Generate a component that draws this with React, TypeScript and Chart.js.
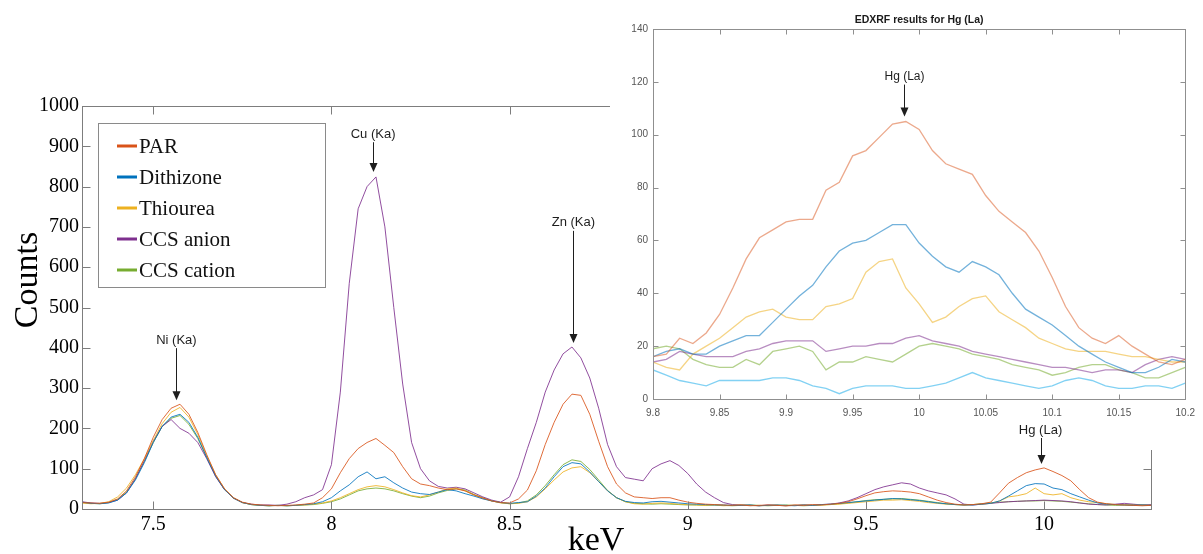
import React, { useEffect, useRef } from "react";
import { Chart, registerables } from "chart.js";

Chart.register(...registerables);

const SERIF = "'Liberation Serif', 'Times New Roman', serif";
const SANS = "'Liberation Sans', Arial, sans-serif";

// ---------- Main spectrum (keV vs counts) ----------
const keV = [
  7.3, 7.325, 7.35, 7.375, 7.4, 7.425, 7.45, 7.475, 7.5, 7.525,
  7.55, 7.575, 7.6, 7.625, 7.65, 7.675, 7.7, 7.725, 7.75, 7.775,
  7.8, 7.825, 7.85, 7.875, 7.9, 7.925, 7.95, 7.975, 8, 8.025,
  8.05, 8.075, 8.1, 8.125, 8.15, 8.175, 8.2, 8.225, 8.25, 8.275,
  8.3, 8.325, 8.35, 8.375, 8.4, 8.425, 8.45, 8.475, 8.5, 8.525,
  8.55, 8.575, 8.6, 8.625, 8.65, 8.675, 8.7, 8.725, 8.75, 8.775,
  8.8, 8.825, 8.85, 8.875, 8.9, 8.925, 8.95, 8.975, 9, 9.025,
  9.05, 9.075, 9.1, 9.125, 9.15, 9.175, 9.2, 9.225, 9.25, 9.275,
  9.3, 9.325, 9.35, 9.375, 9.4, 9.425, 9.45, 9.475, 9.5, 9.525,
  9.55, 9.575, 9.6, 9.625, 9.65, 9.675, 9.7, 9.725, 9.75, 9.775,
  9.8, 9.825, 9.85, 9.875, 9.9, 9.925, 9.95, 9.975, 10, 10.025,
  10.05, 10.075, 10.1, 10.125, 10.15, 10.175, 10.2, 10.225, 10.25, 10.275,
  10.3,
];

const parCounts = [
  16, 15, 14, 17, 25, 45, 80, 125, 178, 222,
  250, 260, 235, 190, 135, 85, 50, 28, 17, 12,
  10, 9, 8, 9, 10, 12, 15, 28, 50, 90,
  125, 150, 165, 175, 158, 140, 105, 75, 62, 58,
  52, 48, 50, 45, 35, 27, 20, 16, 15, 25,
  47, 95, 160, 215, 260, 285, 282, 235, 168, 105,
  62, 40, 30, 28, 26, 28, 28, 22, 17, 14,
  12, 11, 10, 9, 10, 8, 9, 10, 9, 8,
  10, 9, 11, 10, 12, 14, 18, 25, 33, 40,
  43, 45, 44, 42, 38, 30, 22, 16, 12, 10,
  11, 13, 17, 40, 64, 78, 90, 97, 102, 93,
  83, 70, 48, 28, 17, 13, 11, 10, 9, 8,
  9,
];

const dithizoneCounts = [
  17, 14, 13, 15, 22, 40, 72, 115, 165, 205,
  228, 235, 215, 178, 128, 82, 48, 27, 16, 11,
  9, 8, 9, 8, 9, 11, 13, 18, 28, 45,
  60, 80, 92, 75, 80, 65, 52, 42, 38, 36,
  42, 48, 45, 38, 32, 25, 20, 16, 14, 16,
  18, 32, 52, 80, 105, 115, 112, 92, 68, 45,
  28, 19, 16, 15, 18, 19, 17, 15, 13, 12,
  11, 10, 10, 9, 9, 10, 8, 9, 10, 9,
  8, 10, 9, 11, 12, 14, 16, 18, 20, 22,
  24, 26, 25, 23, 21, 18, 15, 13, 11, 10,
  10, 12, 14, 20, 32, 45, 58, 63, 62, 52,
  48, 38, 30, 22, 15, 12, 11, 10, 9, 10,
  9,
];

const thioureaCounts = [
  15, 13, 14, 18, 30, 52, 85, 125, 170, 212,
  240, 252, 228, 185, 132, 85, 50, 28, 16, 11,
  9, 8, 9, 8, 9, 10, 12, 15, 20, 28,
  38, 48, 55, 58, 55, 48, 40, 33, 30, 35,
  42, 50, 52, 45, 35, 26, 20, 15, 13, 14,
  18, 30, 50, 72, 92, 102, 105, 90, 68, 45,
  28, 18, 13, 12, 14, 15, 14, 12, 11, 10,
  9, 10, 8, 9, 10, 9, 8, 9, 10, 8,
  9, 10, 9, 10, 11, 12, 14, 16, 18, 20,
  22, 22, 23, 21, 19, 16, 14, 12, 11, 10,
  11, 12, 14, 20, 30, 33, 38, 52, 38, 35,
  38, 28, 22, 18, 16, 13, 11, 10, 9, 10,
  9,
];

const ccsAnionCounts = [
  18, 15, 14, 16, 22, 40, 75, 120, 168, 205,
  222, 200, 188, 165, 125, 80, 48, 27, 16, 12,
  10, 10, 9, 12, 18, 28, 35, 48, 110, 290,
  560, 745, 800, 824, 700, 500, 310, 165, 100, 70,
  56, 52, 54, 50, 40, 30, 22, 17, 30, 80,
  150, 215, 290, 345, 385, 402, 375, 325, 250, 160,
  105, 78, 74, 70, 100, 112, 120, 108, 88, 62,
  42, 28, 16, 11, 10, 9, 8, 10, 9, 8,
  9, 10, 9, 11, 12, 15, 20, 28, 38, 48,
  55, 60, 65, 62, 52, 45, 40, 35, 25, 12,
  10, 12, 14, 16, 18, 19, 20, 21, 22, 21,
  20, 18, 15, 12, 11, 10, 12, 14, 12, 10,
  11,
];

const ccsCationCounts = [
  16, 14, 13, 16, 24, 42, 75, 118, 165, 205,
  225, 232, 210, 175, 128, 82, 48, 27, 16, 11,
  9, 8, 9, 8, 9, 10, 11, 14, 18, 25,
  35, 45, 50, 52, 50, 45, 38, 32, 28, 32,
  40, 46, 50, 47, 36, 28, 20, 16, 13, 15,
  20, 35, 58, 85, 110, 122, 118, 98, 72, 46,
  28, 18, 14, 13, 12, 13, 12, 11, 10, 10,
  9, 10, 9, 8, 9, 10, 9, 8, 9, 10,
  9, 8, 9, 10, 11, 13, 15, 18, 21, 23,
  24, 25, 26, 24, 22, 19, 16, 13, 11, 10,
  11, 13, 15, 17, 18, 19, 20, 20, 21, 20,
  19, 17, 15, 13, 11, 10, 9, 10, 11, 10,
  9,
];

const seriesNames = ["PAR", "Dithizone", "Thiourea", "CCS anion", "CCS cation"];
const mainColors = [
  "rgba(217,83,25,0.85)",
  "rgba(0,114,189,0.85)",
  "rgba(237,177,32,0.85)",
  "rgba(126,47,142,0.85)",
  "rgba(119,172,48,0.85)",
];
const legendColors = ["#D95319", "#0072BD", "#EDB120", "#7E2F8E", "#77AC30"];

const mainXTicks = [7.5, 8, 8.5, 9, 9.5, 10];
const mainYTicks = [0, 100, 200, 300, 400, 500, 600, 700, 800, 900, 1000];

// Peak annotations on the main chart
const noteLabels = ["Ni (Ka)", "Cu (Ka)", "Zn (Ka)", "Hg (La)"];
const noteKeV = [7.565, 8.117, 8.679, 9.99];
const notePeak = [260, 826, 402, 102];
const noteTextLevel = [419, 930, 710, 196];

// ---------- Inset: EDXRF results for Hg (La) ----------
const insetKeV = [
  9.8, 9.81, 9.82, 9.83, 9.84, 9.85, 9.86, 9.87, 9.88, 9.89,
  9.9, 9.91, 9.92, 9.93, 9.94, 9.95, 9.96, 9.97, 9.98, 9.99,
  10, 10.01, 10.02, 10.03, 10.04, 10.05, 10.06, 10.07, 10.08, 10.09,
  10.1, 10.11, 10.12, 10.13, 10.14, 10.15, 10.16, 10.17, 10.18, 10.19,
  10.2,
];
const insetPar = [
  16, 17, 23, 21, 25, 32, 42, 53, 61, 64,
  67, 68, 68, 79, 82, 92, 94, 99, 104, 105,
  102, 94, 89, 87, 85, 77, 71, 67, 63, 56,
  46, 35, 27, 23, 21, 24, 20, 17, 14, 13,
  15,
];
const insetDithizone = [
  16, 18, 19, 17, 17, 20, 22, 24, 24, 29,
  34, 39, 43, 50, 56, 59, 60, 63, 66, 66,
  59, 54, 50, 48, 52, 50, 47, 40, 34, 31,
  28, 24, 20, 17, 14, 12, 10, 10, 12, 15,
  14,
];
const insetThiourea = [
  14, 12, 11, 17, 20, 23, 27, 31, 33, 34,
  31, 30, 30, 35, 36, 38, 48, 52, 53, 42,
  36, 29, 31, 35, 38, 39, 33, 30, 27, 23,
  21, 19, 18, 18, 18, 17, 16, 16, 15, 14,
  14,
];
const insetCcsAnion = [
  14, 15, 18, 17, 16, 16, 16, 18, 19, 21,
  22, 22, 22, 18, 19, 20, 20, 21, 21, 23,
  24, 22, 21, 20, 18, 17, 16, 15, 14, 13,
  12, 12, 11, 10, 11, 11, 10, 13, 15, 16,
  15,
];
const insetCcsCation = [
  19, 20, 19, 15, 13, 12, 12, 15, 13, 18,
  19, 20, 18, 11, 14, 14, 16, 15, 14, 17,
  20, 21, 20, 19, 17, 16, 15, 13, 12, 11,
  9, 10, 12, 13, 13, 11, 10, 8, 8, 10,
  12,
];
const insetSixth = [
  11, 9, 7, 6, 5, 7, 7, 7, 7, 8,
  8, 7, 5, 4, 2, 4, 5, 5, 5, 4,
  4, 5, 6, 8, 10, 8, 7, 6, 5, 4,
  5, 7, 8, 7, 5, 4, 4, 5, 5, 4,
  6,
];
const insetNames = ["PAR", "Dithizone", "Thiourea", "CCS anion", "CCS cation", "Series 6"];
const insetColors = [
  "rgba(217,83,25,0.5)",
  "rgba(0,114,189,0.55)",
  "rgba(237,177,32,0.55)",
  "rgba(126,47,142,0.55)",
  "rgba(119,172,48,0.55)",
  "rgba(77,190,238,0.7)",
];
const insetXTicks = [9.8, 9.85, 9.9, 9.95, 10, 10.05, 10.1, 10.15, 10.2];
const insetYTicks = [0, 20, 40, 60, 80, 100, 120, 140];
const insetTitle = "EDXRF results for Hg (La)";
const insetNoteLabel = "Hg (La)";
const insetNoteKeV = 9.989;
const insetNotePeak = 105;
const insetNoteTextLevel = 122;

function drawArrowNote(ctx: CanvasRenderingContext2D, x: number, textY: number, tipY: number, label: string, font: string) {
  ctx.save();
  ctx.fillStyle = "#1e1e1e";
  ctx.strokeStyle = "#1e1e1e";
  ctx.font = font;
  ctx.textAlign = "center";
  ctx.textBaseline = "middle";
  ctx.fillText(label, x, textY);
  const xs = Math.round(x) + 0.5;
  ctx.lineWidth = 1;
  ctx.beginPath();
  ctx.moveTo(xs, textY + 8);
  ctx.lineTo(xs, tipY - 8);
  ctx.stroke();
  ctx.beginPath();
  ctx.moveTo(xs - 4, tipY - 9);
  ctx.lineTo(xs + 4, tipY - 9);
  ctx.lineTo(xs, tipY);
  ctx.closePath();
  ctx.fill();
  ctx.restore();
}

function drawBoxAndTicks(chart: any, len: number, color: string, xTicks: number[], yTicks: number[]) {
  const ctx: CanvasRenderingContext2D = chart.ctx;
  const { left, right, top, bottom } = chart.chartArea;
  const xs = chart.scales.x;
  const ys = chart.scales.y;
  const L = Math.round(left) + 0.5;
  const R = Math.round(right) + 0.5;
  const T = Math.round(top) + 0.5;
  const B = Math.round(bottom) + 0.5;
  ctx.save();
  ctx.strokeStyle = color;
  ctx.lineWidth = 1;
  ctx.beginPath();
  for (const v of xTicks) {
    const px = Math.round(xs.getPixelForValue(v)) + 0.5;
    ctx.moveTo(px, B);
    ctx.lineTo(px, B - len);
    ctx.moveTo(px, T);
    ctx.lineTo(px, T + len);
  }
  for (const v of yTicks) {
    const py = Math.round(ys.getPixelForValue(v)) + 0.5;
    ctx.moveTo(L, py);
    ctx.lineTo(L + len, py);
    ctx.moveTo(R, py);
    ctx.lineTo(R - len, py);
  }
  ctx.stroke();
  ctx.strokeRect(L, T, R - L, B - T);
  ctx.restore();
}

const mainDecor = {
  id: "mainDecor",
  afterDraw(chart: any) {
    const ctx: CanvasRenderingContext2D = chart.ctx;
    drawBoxAndTicks(chart, 8, "#7d7d7d", mainXTicks, mainYTicks);
    const xs = chart.scales.x;
    const ys = chart.scales.y;

    // peak notes
    for (let i = 0; i < noteLabels.length; i++) {
      const x = xs.getPixelForValue(noteKeV[i]);
      drawArrowNote(ctx, x, ys.getPixelForValue(noteTextLevel[i]), ys.getPixelForValue(notePeak[i]) - 4, noteLabels[i], `13px ${SANS}`);
    }

    // legend
    ctx.save();
    ctx.fillStyle = "#ffffff";
    ctx.fillRect(98, 123, 227, 164);
    ctx.strokeStyle = "#8a8a8a";
    ctx.lineWidth = 1;
    ctx.strokeRect(98.5, 123.5, 227, 164);
    ctx.font = `21px ${SERIF}`;
    ctx.textAlign = "left";
    ctx.textBaseline = "middle";
    chart.data.datasets.forEach((ds: any, i: number) => {
      const y = 146 + i * 31;
      ctx.strokeStyle = legendColors[i];
      ctx.lineWidth = 3;
      ctx.beginPath();
      ctx.moveTo(117, y);
      ctx.lineTo(137, y);
      ctx.stroke();
      ctx.fillStyle = "#111";
      ctx.fillText(ds.label, 139, y + 1);
    });
    ctx.restore();

    // axis titles
    ctx.save();
    ctx.fillStyle = "#000";
    ctx.font = `34px ${SERIF}`;
    ctx.textAlign = "center";
    ctx.textBaseline = "alphabetic";
    ctx.fillText("keV", 596, 550);
    ctx.translate(37, 280);
    ctx.rotate(-Math.PI / 2);
    ctx.fillText("Counts", 0, 0);
    ctx.restore();
  },
};

const insetDecor = {
  id: "insetDecor",
  afterDraw(chart: any) {
    const ctx: CanvasRenderingContext2D = chart.ctx;
    drawBoxAndTicks(chart, 5, "#8f8f8f", insetXTicks, insetYTicks);
    const xs = chart.scales.x;
    const ys = chart.scales.y;
    const { left, right, top } = chart.chartArea;
    ctx.save();
    ctx.fillStyle = "#1a1a1a";
    ctx.font = `bold 10.5px ${SANS}`;
    ctx.textAlign = "center";
    ctx.textBaseline = "middle";
    ctx.fillText(insetTitle, (left + right) / 2, top - 9);
    ctx.restore();
    drawArrowNote(
      ctx,
      xs.getPixelForValue(insetNoteKeV),
      ys.getPixelForValue(insetNoteTextLevel),
      ys.getPixelForValue(insetNotePeak) - 5,
      insetNoteLabel,
      `12px ${SANS}`
    );
  },
};

export default function App() {
  const mainRef = useRef<HTMLCanvasElement | null>(null);
  const insetRef = useRef<HTMLCanvasElement | null>(null);

  useEffect(() => {
    const mainSeries = [parCounts, dithizoneCounts, thioureaCounts, ccsAnionCounts, ccsCationCounts];
    const main = new Chart(mainRef.current as HTMLCanvasElement, {
      type: "line",
      data: {
        datasets: seriesNames.map((name, k) => ({
          label: name,
          data: keV.map((x, i) => ({ x, y: mainSeries[k][i] })),
          borderColor: mainColors[k],
          borderWidth: 1,
          pointRadius: 0,
          tension: 0,
          fill: false,
        })),
      },
      options: {
        animation: false,
        responsive: false,
        maintainAspectRatio: false,
        devicePixelRatio: 1,
        layout: { padding: { top: 106, right: 52, left: 0, bottom: 0 } },
        plugins: { legend: { display: false }, tooltip: { enabled: false }, title: { display: false } },
        scales: {
          x: {
            type: "linear",
            min: 7.3,
            max: 10.3,
            afterBuildTicks: (s: any) => {
              s.ticks = mainXTicks.map((v) => ({ value: v }));
            },
            afterFit: (s: any) => {
              s.height = 45;
            },
            grid: { display: false, drawTicks: false },
            border: { display: false },
            ticks: {
              padding: 4,
              autoSkip: false,
              maxRotation: 0,
              minRotation: 0,
              color: "#000",
              font: { family: SERIF, size: 20 },
              callback: (v: any) => String(v),
            },
          },
          y: {
            type: "linear",
            min: 0,
            max: 1000,
            afterBuildTicks: (s: any) => {
              s.ticks = mainYTicks.map((v) => ({ value: v }));
            },
            afterFit: (s: any) => {
              s.width = 82;
            },
            grid: { display: false, drawTicks: false },
            border: { display: false },
            ticks: {
              padding: 3,
              autoSkip: false,
              color: "#000",
              font: { family: SERIF, size: 20 },
              callback: (v: any) => String(v),
            },
          },
        },
      },
      plugins: [mainDecor],
    });

    const insetSeries = [insetPar, insetDithizone, insetThiourea, insetCcsAnion, insetCcsCation, insetSixth];
    const inset = new Chart(insetRef.current as HTMLCanvasElement, {
      type: "line",
      data: {
        datasets: insetNames.map((name, k) => ({
          label: name,
          data: insetKeV.map((x, i) => ({ x, y: insetSeries[k][i] })),
          borderColor: insetColors[k],
          borderWidth: 1.3,
          pointRadius: 0,
          tension: 0,
          fill: false,
        })),
      },
      options: {
        animation: false,
        responsive: false,
        maintainAspectRatio: false,
        devicePixelRatio: 1,
        layout: { padding: { top: 29, right: 17, left: 0, bottom: 0 } },
        plugins: { legend: { display: false }, tooltip: { enabled: false }, title: { display: false } },
        scales: {
          x: {
            type: "linear",
            min: 9.8,
            max: 10.2,
            afterBuildTicks: (s: any) => {
              s.ticks = insetXTicks.map((v) => ({ value: v }));
            },
            afterFit: (s: any) => {
              s.height = 21;
            },
            grid: { display: false, drawTicks: false },
            border: { display: false },
            ticks: {
              padding: 8,
              autoSkip: false,
              maxRotation: 0,
              minRotation: 0,
              color: "#555",
              font: { family: SANS, size: 10 },
              callback: (v: any) => String(v),
            },
          },
          y: {
            type: "linear",
            min: 0,
            max: 140,
            afterBuildTicks: (s: any) => {
              s.ticks = insetYTicks.map((v) => ({ value: v }));
            },
            afterFit: (s: any) => {
              s.width = 43;
            },
            grid: { display: false, drawTicks: false },
            border: { display: false },
            ticks: {
              padding: 5,
              autoSkip: false,
              color: "#555",
              font: { family: SANS, size: 10 },
              callback: (v: any) => String(v),
            },
          },
        },
      },
      plugins: [insetDecor],
    });

    return () => {
      main.destroy();
      inset.destroy();
    };
  }, []);

  return (
    <div style={{ position: "fixed", left: 0, top: 0, width: 1203, height: 554, background: "#ffffff", overflow: "hidden" }}>
      <canvas ref={mainRef} width={1203} height={554} style={{ position: "absolute", left: 0, top: 0, width: 1203, height: 554 }} />
      <div style={{ position: "absolute", left: 610, top: 0, width: 593, height: 420, background: "#ffffff" }}>
        <canvas ref={insetRef} width={593} height={420} style={{ display: "block", width: 593, height: 420 }} />
      </div>
      <div style={{ position: "absolute", left: 1100, top: 420, width: 103, height: 30, background: "#ffffff" }} />
    </div>
  );
}
